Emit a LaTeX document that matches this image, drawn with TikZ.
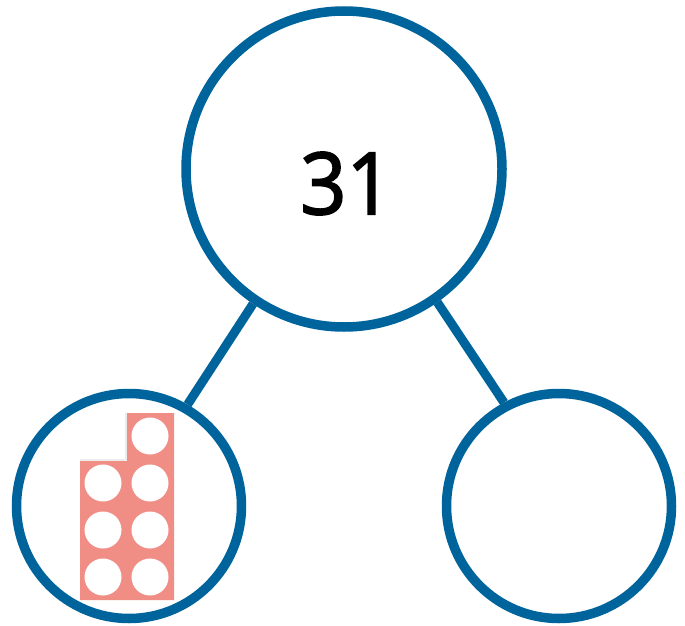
\documentclass[tikz,border=0pt]{standalone}
\usepackage{fontspec}
\setmainfont{Open Sans}
\newfontfamily\numfont[FakeBold=2,FakeStretch=0.94]{Open Sans}
\definecolor{ringblue}{HTML}{00649C}
\definecolor{blocksalmon}{HTML}{F08E86}
\tikzset{
    ring/.style={circle, draw=ringblue, line width=9.5pt, inner sep=0pt},
    hole/.style={circle, fill=white, minimum size=37pt, inner sep=0pt},
    link/.style={draw=ringblue, line width=9pt}
}

\begin{document}
\begin{tikzpicture}[x=1pt,y=-1pt]

        \useasboundingbox (0,0) rectangle (685,626);

        % number bond
        \node[ring, minimum size=316pt] (whole) at (344,169) {};
        \node[ring, minimum size=225pt] (partl) at (129,506) {};
        \node[ring, minimum size=225pt] (partr) at (559,506) {};
        \node[inner sep=0pt] (total) at (346.5,183.5) {\fontsize{86pt}{86pt}\numfont 31};

        \draw[link] (whole.236) -- (partl.60);
        \draw[link] (whole.305) -- (partr.118.5);

        % counter block
        \fill[blocksalmon] (126,413) -- (174,413) -- (174,600) -- (80,600) -- (80,460) -- (126,460) -- cycle;
        \draw[gray!15, line width=1.5pt] (80,460) -- (126,460) -- (126,413);
        \node[hole] (h0) at (150,436) {};
        \foreach \row/\y in {1/483,2/530,3/577} {
            \node[hole] (hl\row) at (103,\y) {};
            \node[hole] (hr\row) at (150,\y) {};
        }

    \end{tikzpicture}
\end{document}
